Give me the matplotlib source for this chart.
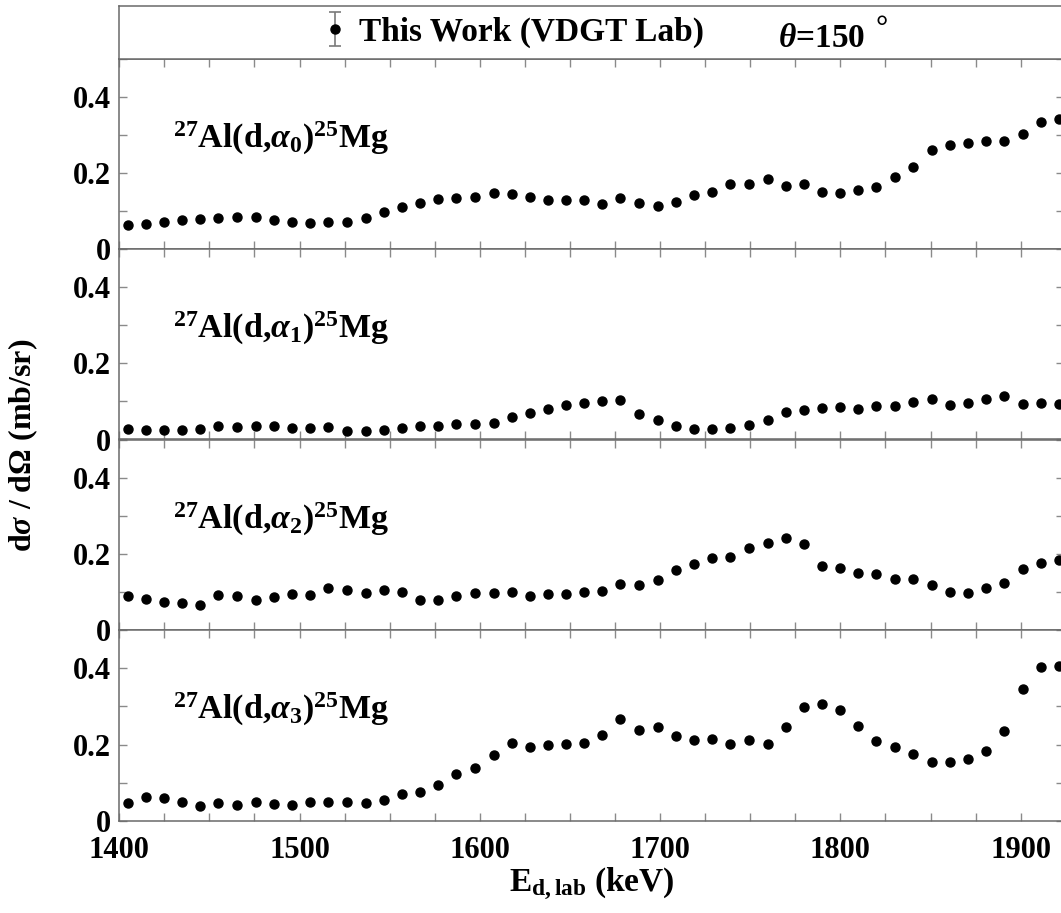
import matplotlib
matplotlib.use("Agg")
import numpy as np
import matplotlib.pyplot as plt
from matplotlib.ticker import MultipleLocator, FixedLocator, FixedFormatter

# ---------------- data ----------------
energy = [1405, 1415, 1425, 1435, 1445, 1455, 1465.5, 1476, 1486, 1496,
          1506, 1516, 1526.5, 1537, 1547, 1557, 1567, 1577, 1587, 1597.5,
          1608, 1618, 1628, 1638, 1648, 1658, 1668, 1678, 1688.5, 1699,
          1709, 1719, 1729, 1739, 1749.5, 1760, 1770, 1780, 1790, 1800,
          1810, 1820, 1830.5, 1840.5, 1851, 1861, 1871, 1881, 1891, 1901,
          1911, 1921]

alpha0 = [0.063, 0.065, 0.070, 0.076, 0.078, 0.082, 0.084, 0.083, 0.076, 0.072,
          0.069, 0.070, 0.072, 0.081, 0.097, 0.111, 0.121, 0.132, 0.135, 0.138,
          0.147, 0.145, 0.136, 0.130, 0.130, 0.130, 0.119, 0.135, 0.120, 0.112,
          0.123, 0.142, 0.149, 0.170, 0.171, 0.183, 0.166, 0.171, 0.151, 0.148,
          0.155, 0.163, 0.190, 0.216, 0.260, 0.274, 0.280, 0.283, 0.285, 0.302,
          0.334, 0.342]

alpha1 = [0.028, 0.024, 0.026, 0.026, 0.028, 0.035, 0.032, 0.035, 0.035, 0.031,
          0.030, 0.032, 0.023, 0.023, 0.026, 0.031, 0.035, 0.036, 0.041, 0.041,
          0.044, 0.059, 0.069, 0.080, 0.091, 0.097, 0.101, 0.103, 0.068, 0.051,
          0.036, 0.027, 0.028, 0.030, 0.038, 0.050, 0.072, 0.078, 0.083, 0.085,
          0.079, 0.087, 0.089, 0.098, 0.107, 0.091, 0.095, 0.106, 0.113, 0.093,
          0.097, 0.092]

alpha2 = [0.088, 0.081, 0.073, 0.072, 0.066, 0.091, 0.089, 0.078, 0.086, 0.094,
          0.093, 0.111, 0.104, 0.097, 0.104, 0.101, 0.079, 0.080, 0.089, 0.097,
          0.098, 0.099, 0.090, 0.095, 0.094, 0.100, 0.103, 0.121, 0.118, 0.131,
          0.157, 0.172, 0.189, 0.191, 0.215, 0.228, 0.241, 0.226, 0.168, 0.162,
          0.149, 0.146, 0.134, 0.133, 0.117, 0.101, 0.096, 0.110, 0.123, 0.160,
          0.177, 0.184]

alpha3 = [0.046, 0.062, 0.060, 0.050, 0.038, 0.048, 0.041, 0.051, 0.044, 0.042,
          0.049, 0.050, 0.050, 0.048, 0.054, 0.071, 0.075, 0.093, 0.124, 0.138,
          0.174, 0.204, 0.193, 0.200, 0.201, 0.203, 0.226, 0.266, 0.238, 0.245,
          0.222, 0.212, 0.215, 0.202, 0.212, 0.202, 0.245, 0.298, 0.305, 0.290,
          0.250, 0.210, 0.193, 0.176, 0.154, 0.154, 0.161, 0.182, 0.235, 0.346,
          0.402, 0.407]

series = [alpha0, alpha1, alpha2, alpha3]
reaction_labels = [r'$^{27}$Al(d,$\alpha_{0}$)$^{25}$Mg',
                   r'$^{27}$Al(d,$\alpha_{1}$)$^{25}$Mg',
                   r'$^{27}$Al(d,$\alpha_{2}$)$^{25}$Mg',
                   r'$^{27}$Al(d,$\alpha_{3}$)$^{25}$Mg']
x_ticks = [1400, 1500, 1600, 1700, 1800, 1900]
x_ticklabels = ['1400', '1500', '1600', '1700', '1800', '1900']
y_ticks = [0, 0.2, 0.4]
y_ticklabels = ['0', '0.2', '0.4']
legend_label = 'This Work (VDGT Lab)'
angle_label = r'$\theta$=150'
degree_sign = '°'
xlabel = r'E$_{\mathrm{d,lab}}$ (keV)'
ylabel = r'd$\sigma$ / d$\Omega$ (mb/sr)'

# ---------------- style ----------------
plt.rcParams['font.family'] = ['Liberation Serif', 'DejaVu Serif']
plt.rcParams['font.weight'] = 'bold'
plt.rcParams['mathtext.fontset'] = 'custom'
plt.rcParams['mathtext.rm'] = 'Liberation Serif:bold'
plt.rcParams['mathtext.bf'] = 'Liberation Serif:bold'
plt.rcParams['mathtext.it'] = 'Liberation Serif:italic'

spine_col = '#6a6a6a'
tick_col = '#8a8a8a'

W, H = 1061, 913
fig = plt.figure(figsize=(W / 100, H / 100), dpi=100)

left_px, right_px = 119.2, 1064.0
def fx(px):
    return px / W
def fy(py):
    return 1 - py / H

panel_edges = [59, 249, 439.5, 630, 821]

axes = []
for i in range(4):
    top, bot = panel_edges[i], panel_edges[i + 1]
    ax = fig.add_axes([fx(left_px), fy(bot), fx(right_px) - fx(left_px), (bot - top) / H])
    axes.append(ax)
    ax.plot(energy, series[i], 'o', color='black', markersize=6.5, linestyle='none')
    ax.set_xlim(1400, 1924)
    ax.set_ylim(0, 0.5)
    ax.xaxis.set_major_locator(FixedLocator(x_ticks))
    ax.xaxis.set_minor_locator(MultipleLocator(25))
    ax.yaxis.set_major_locator(FixedLocator(y_ticks))
    ax.yaxis.set_major_formatter(FixedFormatter(y_ticklabels))
    ax.yaxis.set_minor_locator(MultipleLocator(0.1))
    ax.tick_params(which='both', direction='in', length=6, width=1, color=tick_col,
                   top=True, bottom=True, left=True, right=True)
    ax.tick_params(axis='y', which='major', labelsize=22, pad=6)
    ax.tick_params(axis='x', which='major', labelsize=22, pad=11)
    for sp in ax.spines.values():
        sp.set_color(spine_col)
        sp.set_linewidth(1.1)
    if i < 3:
        ax.tick_params(axis='x', labelbottom=False)
    else:
        ax.xaxis.set_major_formatter(FixedFormatter(x_ticklabels))
    ax.text(0.057, 0.534, reaction_labels[i], transform=ax.transAxes,
            fontsize=24.5, fontweight='bold', ha='left', va='baseline')

axes[3].set_xlabel(xlabel, fontsize=24, fontweight='bold', labelpad=0)
fig.text(fx(23), fy(445.5), ylabel, rotation=90, fontsize=23, fontweight='bold',
         ha='center', va='center')

# legend box on top
ax_leg = fig.add_axes([fx(left_px), fy(59), fx(right_px) - fx(left_px), (59 - 5.7) / H])
ax_leg.set_xticks([])
ax_leg.set_yticks([])
ax_leg.set_xlim(0, 1)
ax_leg.set_ylim(0, 1)
for sp in ax_leg.spines.values():
    sp.set_color(spine_col)
    sp.set_linewidth(1.1)
ax_leg.errorbar([np.nan], [np.nan], yerr=[0.0], fmt='o', color='black', markersize=6.5,
                ecolor='#7a7a7a', elinewidth=1.2, capsize=4, capthick=1.2,
                label=legend_label)
ax_leg.legend(loc='center left', bbox_to_anchor=(0.211, 0.5), frameon=False,
              handlelength=1.0, handletextpad=0.2, borderpad=0,
              borderaxespad=0, prop={'weight': 'bold', 'size': 24})
ax_leg.text(0.697, 0.23, angle_label, transform=ax_leg.transAxes, fontsize=24,
            fontweight='bold', ha='left', va='baseline')
ax_leg.text(0.801, 0.56, degree_sign, transform=ax_leg.transAxes, fontsize=22,
            fontweight='bold', ha='left', va='center')

fig.savefig('out.png', dpi=100)
